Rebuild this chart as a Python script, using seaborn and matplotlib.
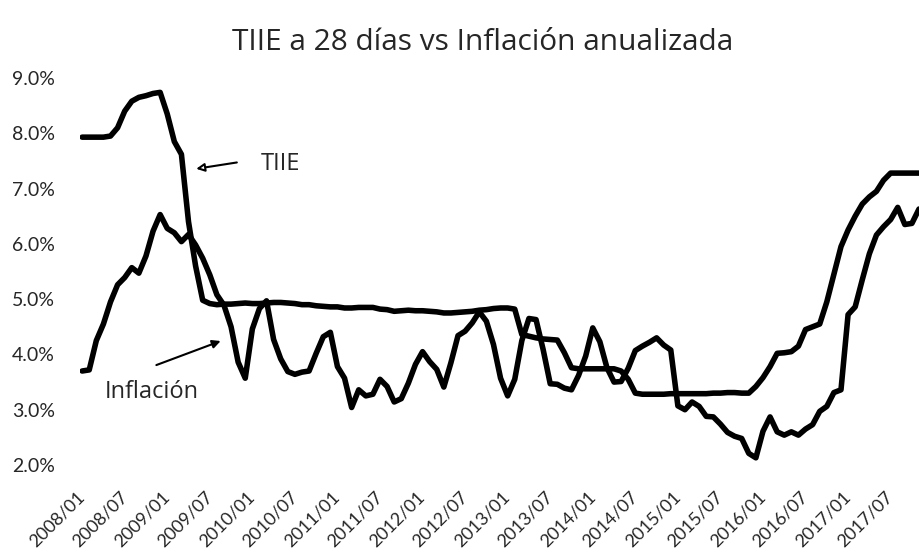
import numpy as np
import pandas as pd
import matplotlib
matplotlib.use('Agg')
import matplotlib.pyplot as plt
import seaborn as sns

# Monthly values, 2008/01 - 2017/11
tiie = [
    7.93, 7.93, 7.93, 7.93, 7.95, 8.10, 8.40, 8.58, 8.65, 8.68, 8.72, 8.74,  # 2008
    8.35, 7.85, 7.62, 6.40, 5.60, 4.98, 4.92, 4.90, 4.91, 4.91, 4.92, 4.93,  # 2009
    4.92, 4.92, 4.93, 4.94, 4.94, 4.93, 4.92, 4.90, 4.90, 4.88, 4.87, 4.86,  # 2010
    4.86, 4.84, 4.84, 4.85, 4.85, 4.85, 4.82, 4.81, 4.78, 4.79, 4.80, 4.79,  # 2011
    4.79, 4.78, 4.77, 4.75, 4.75, 4.76, 4.77, 4.78, 4.80, 4.81, 4.83, 4.84,  # 2012
    4.84, 4.82, 4.36, 4.33, 4.30, 4.28, 4.27, 4.26, 4.03, 3.76, 3.74, 3.74,  # 2013
    3.74, 3.74, 3.74, 3.74, 3.70, 3.55, 3.30, 3.28, 3.28, 3.28, 3.28, 3.29,  # 2014
    3.29, 3.29, 3.29, 3.29, 3.29, 3.30, 3.30, 3.31, 3.31, 3.30, 3.30, 3.42,  # 2015
    3.58, 3.78, 4.02, 4.03, 4.05, 4.15, 4.45, 4.50, 4.55, 4.95, 5.45, 5.95,  # 2016
    6.25, 6.50, 6.72, 6.85, 6.95, 7.15, 7.28, 7.28, 7.28, 7.28, 7.28,        # 2017
]
inflacion = [
    3.70, 3.72, 4.25, 4.55, 4.95, 5.26, 5.39, 5.57, 5.47, 5.78, 6.23, 6.53,  # 2008
    6.28, 6.20, 6.04, 6.17, 5.98, 5.74, 5.44, 5.08, 4.89, 4.50, 3.86, 3.57,  # 2009
    4.46, 4.83, 4.97, 4.27, 3.92, 3.69, 3.64, 3.68, 3.70, 4.02, 4.32, 4.40,  # 2010
    3.78, 3.57, 3.04, 3.36, 3.25, 3.28, 3.55, 3.42, 3.14, 3.20, 3.48, 3.82,  # 2011
    4.05, 3.87, 3.73, 3.41, 3.85, 4.34, 4.42, 4.57, 4.77, 4.60, 4.18, 3.57,  # 2012
    3.25, 3.55, 4.25, 4.65, 4.63, 4.09, 3.47, 3.46, 3.39, 3.36, 3.62, 3.97,  # 2013
    4.48, 4.23, 3.76, 3.50, 3.51, 3.75, 4.07, 4.15, 4.22, 4.30, 4.17, 4.08,  # 2014
    3.07, 3.00, 3.14, 3.06, 2.88, 2.87, 2.74, 2.59, 2.52, 2.48, 2.21, 2.13,  # 2015
    2.61, 2.87, 2.60, 2.54, 2.60, 2.54, 2.65, 2.73, 2.97, 3.06, 3.31, 3.36,  # 2016
    4.72, 4.86, 5.35, 5.82, 6.16, 6.31, 6.44, 6.66, 6.35, 6.37, 6.63,        # 2017
]
meses = pd.date_range('2008-01-01', periods=len(tiie), freq='MS')
tick_labels = list(meses.strftime('%Y/%m')[::6])
y_ticks = [2, 3, 4, 5, 6, 7, 8, 9]

df = pd.DataFrame({'mes': np.arange(len(tiie)), 'TIIE': tiie, 'Inflacion': inflacion})

sns.set_theme(style='white')
plt.rcParams['font.family'] = ['Open Sans', 'DejaVu Sans']

fig = plt.figure(figsize=(9.19, 5.5), dpi=100)
ax = fig.add_axes([80 / 919, 85 / 550, 839 / 919, 387 / 550])

sns.lineplot(x='mes', y='TIIE', data=df, color='black', lw=4, ax=ax)
sns.lineplot(x='mes', y='Inflacion', data=df, color='black', lw=4, ax=ax)

ax.set_xlim(-0.3, len(tiie) - 1)
ax.set_ylim(2, 9)
ax.set_xlabel('')
ax.set_ylabel('')
for s in ax.spines.values():
    s.set_visible(False)

ax.set_yticks(y_ticks)
ax.set_yticklabels([f'{v:.1f}%' for v in y_ticks], fontsize=14, family='Lato')
ax.set_xticks(range(0, len(tiie), 6))
ax.set_xticklabels(tick_labels, rotation=45, ha='right', va='center',
                   rotation_mode='anchor', fontsize=13, family='Lato')
ax.tick_params(axis='y', length=0, pad=18)
ax.tick_params(axis='x', length=0, pad=21)

# annotations
ax.annotate('', xy=(15.7, 7.35), xytext=(22.2, 7.48),
            arrowprops=dict(arrowstyle='-|>', color='black', lw=1.5, fc='white'))
ax.text(27.9, 7.44, 'TIIE', ha='center', va='center', fontsize=17)
ax.annotate('', xy=(19.9, 4.26), xytext=(10.1, 3.79),
            arrowprops=dict(arrowstyle='-|>', color='black', lw=1.5))
ax.text(9.8, 3.32, 'Inflación', ha='center', va='center', fontsize=17)

fig.text(483 / 919, 1 - 42 / 550, 'TIIE a 28 días vs Inflación anualizada',
         ha='center', va='center', fontsize=21.5)

plt.savefig('out.png', dpi=100)
